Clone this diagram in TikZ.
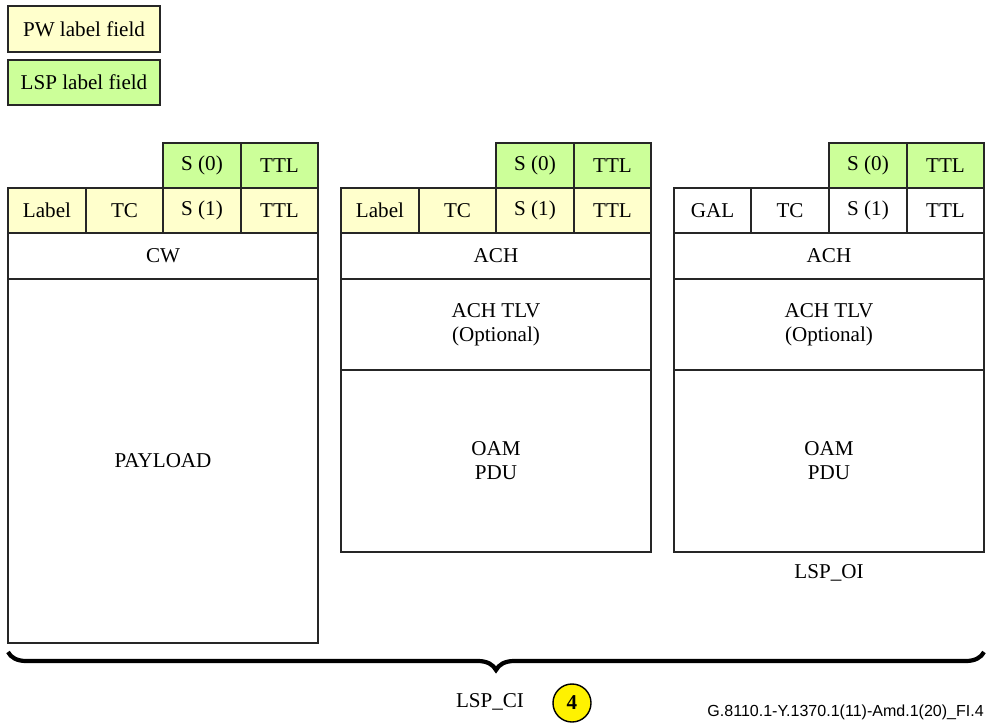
\documentclass[tikz,border=0pt]{standalone}
\usepackage{fontspec}
\setmainfont{Liberation Serif}
\newfontfamily\footfont{Liberation Sans}
\usetikzlibrary{decorations.pathreplacing}
\definecolor{pwyellow}{RGB}{255,255,204}
\definecolor{lspgreen}{RGB}{204,255,153}

\begin{document}
\begin{tikzpicture}[x=0.025cm, y=-0.025cm, font=\fontsize{15}{17}\selectfont,
	cell/.style={draw=black!85, line width=1pt},
	txt/.style={align=center, inner sep=0pt}]
	\useasboundingbox (0,0) rectangle (988,723);
	
	\filldraw[cell, fill=pwyellow] (8,6) rectangle (160,52) node[midway, txt] (pwkey) {PW label field};
	\filldraw[cell, fill=lspgreen] (8,60) rectangle (160,105) node[midway, txt] (lspkey) {LSP label field};
	
	\filldraw[cell, fill=lspgreen] (163,143) rectangle (241,188) node[midway, txt] (sa0) {S (0)};
	\filldraw[cell, fill=lspgreen] (241,143) rectangle (318,188) node[midway, txt] (ttla0) {TTL};
	\filldraw[cell, fill=pwyellow] (8,188) rectangle (86,233) node[midway, txt] (lbla) {Label};
	\filldraw[cell, fill=pwyellow] (86,188) rectangle (163,233) node[midway, txt] (tca) {TC};
	\filldraw[cell, fill=pwyellow] (163,188) rectangle (241,233) node[midway, txt] (sa1) {S (1)};
	\filldraw[cell, fill=pwyellow] (241,188) rectangle (318,233) node[midway, txt] (ttla1) {TTL};
	\draw[cell] (8,233) rectangle (318,279) node[midway, txt] (cw) {CW};
	\draw[cell] (8,279) rectangle (318,643) node[midway, txt] (payload) {PAYLOAD};
	
	\filldraw[cell, fill=lspgreen] (496,143) rectangle (574,188) node[midway, txt] (sb0) {S (0)};
	\filldraw[cell, fill=lspgreen] (574,143) rectangle (651,188) node[midway, txt] (ttlb0) {TTL};
	\filldraw[cell, fill=pwyellow] (341,188) rectangle (419,233) node[midway, txt] (lblb) {Label};
	\filldraw[cell, fill=pwyellow] (419,188) rectangle (496,233) node[midway, txt] (tcb) {TC};
	\filldraw[cell, fill=pwyellow] (496,188) rectangle (574,233) node[midway, txt] (sb1) {S (1)};
	\filldraw[cell, fill=pwyellow] (574,188) rectangle (651,233) node[midway, txt] (ttlb1) {TTL};
	\draw[cell] (341,233) rectangle (651,279) node[midway, txt] (achb) {ACH};
	\draw[cell] (341,279) rectangle (651,370) node[midway, txt] (tlvb) {ACH TLV\\(Optional)};
	\draw[cell] (341,370) rectangle (651,552) node[midway, txt] (oamb) {OAM\\PDU};
	
	\filldraw[cell, fill=lspgreen] (829,143) rectangle (907,188) node[midway, txt] (sc0) {S (0)};
	\filldraw[cell, fill=lspgreen] (907,143) rectangle (984,188) node[midway, txt] (ttlc0) {TTL};
	\draw[cell] (674,188) rectangle (751,233) node[midway, txt] (galc) {GAL};
	\draw[cell] (751,188) rectangle (829,233) node[midway, txt] (tcc) {TC};
	\draw[cell] (829,188) rectangle (907,233) node[midway, txt] (sc1) {S (1)};
	\draw[cell] (907,188) rectangle (984,233) node[midway, txt] (ttlc1) {TTL};
	\draw[cell] (674,233) rectangle (984,279) node[midway, txt] (achc) {ACH};
	\draw[cell] (674,279) rectangle (984,370) node[midway, txt] (tlvc) {ACH TLV\\(Optional)};
	\draw[cell] (674,370) rectangle (984,552) node[midway, txt] (oamc) {OAM\\PDU};
	\node[txt] (lspoi) at (829,573) {LSP\_OI};
	
	\draw[line width=3pt, decorate, decoration={brace, amplitude=0.45cm}] (984,652) -- (8,652);
	\node[txt] (lspci) at (490,702) {LSP\_CI};
	\node[circle, draw, fill=yellow, line width=1pt, minimum size=0.95cm, inner sep=0pt, font=\fontsize{15}{17}\selectfont\bfseries] (num) at (572,703) {4};
	\node[anchor=east, inner sep=0pt, font=\fontsize{11.4}{13}\footfont] (figid) at (984,712) {G.8110.1-Y.1370.1(11)-Amd.1(20)\_FI.4};
\end{tikzpicture}
\end{document}
